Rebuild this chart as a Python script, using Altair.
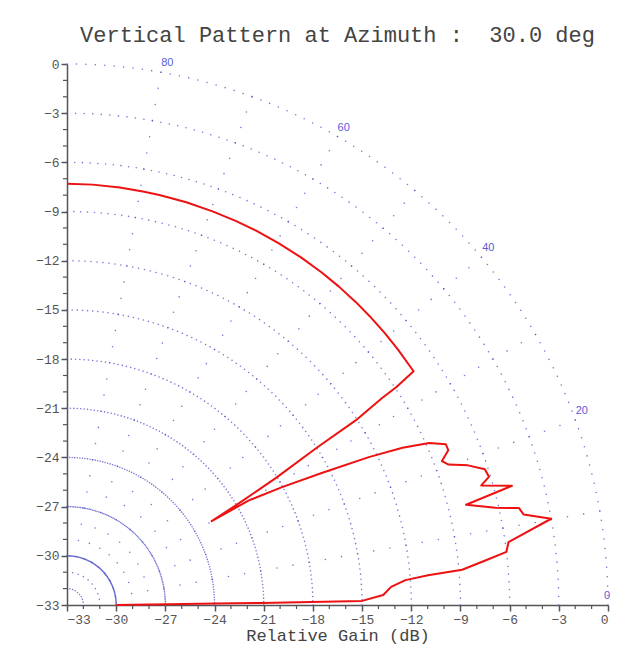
import altair as alt
import pandas as pd

# ---------------- data ----------------
TITLE = "Vertical Pattern at Azimuth :\u00a0 30.0 deg"
X_TITLE = "Relative Gain (dB)"
FLOOR = -33
MAJOR_TICKS = [-33, -30, -27, -24, -21, -18, -15, -12, -9, -6, -3, 0]
MINOR_TICKS = [v for v in range(-33, 1) if v % 3 != 0]
RING_GAINS = [-30, -27, -24, -21, -18, -15, -12, -9, -6, -3, 0]
RADIAL_ANGLES = [10, 20, 30, 40, 50, 60, 70, 80]
ANGLE_LABELS = ["0", "20", "40", "60", "80"]
ANGLE_LABEL_ELEV = [1.0, 20.6, 40.3, 59.9, 79.5]
ANGLE_LABEL_GAIN = [-0.05, 0.55, 0.7, 0.65, 0.6]

# elevation pattern (elevation angle in degrees, relative gain in dB)
elev_deg = [90.0, 86.5, 82.8, 79.6, 77.3, 73.5, 69.7, 66.3, 63.2, 59.7, 56.0, 52.6,
            49.5, 46.4, 43.7, 40.5, 37.6, 34.0,
            33.5, 33.3, 32.6, 32.2, 31.3, 30.6, 30.1,
            29.9, 28.7, 27.4, 26.1, 25.1, 24.1, 23.0, 22.1, 21.0, 20.2, 19.2, 18.0,
            16.9, 16.1, 15.0,
            14.1, 12.8, 12.1, 11.2, 10.1, 8.1, 6.9, 6.1, 5.1, 4.7, 4.2, 3.2, 1.8,
            0.8, 0.7, 0.6, 0.6, 0.4, 0.0]
gain_db = [-7.30, -7.31, -7.33, -7.35, -7.36, -7.38, -7.40, -7.41, -7.42, -7.43, -7.44, -7.45,
           -7.46, -7.47, -7.48, -7.49, -7.50, -7.50,
           -8.9, -10.0, -12.1, -15.0, -18.1, -20.8, -22.8,
           -20.2, -18.0, -15.5, -12.5, -10.4, -8.8, -7.9, -7.9, -8.5, -8.2, -7.1, -6.2,
           -6.1, -6.7, -4.9,
           -7.9, -6.2, -4.8, -4.6, -3.0, -5.8, -6.0, -7.3, -8.8, -10.9, -12.3, -13.2, -13.7,
           -15.0, -18.1, -21.1, -23.9, -26.9, -30.0]

# ---------------- tables ----------------
W = 541
H = 541
pattern = pd.DataFrame({"i": list(range(len(elev_deg))), "elev": elev_deg, "gain": gain_db})
rings = pd.DataFrame([{"elev": a, "gain": g} for g in RING_GAINS for a in range(0, 91)])
radial = pd.DataFrame([{"elev": a, "gain": FLOOR + r} for a in RADIAL_ANGLES for r in range(1, 34)])
labels = pd.DataFrame({"elev": ANGLE_LABEL_ELEV, "gain": ANGLE_LABEL_GAIN, "text": ANGLE_LABELS})
minor = pd.DataFrame({"px": MINOR_TICKS, "py": MINOR_TICKS})

x_scale = alt.Scale(domain=[-33, 0], nice=False, zero=False)
y_scale = alt.Scale(domain=[-33, 0], nice=False, zero=False)

XCALC = "-33 + (datum.gain + 33) * cos(datum.elev * PI / 180)"
YCALC = "-33 + (datum.gain + 33) * sin(datum.elev * PI / 180)"

AX = dict(
    values=MAJOR_TICKS, grid=False, format="d",
    labelFont="Liberation Mono", labelFontSize=13, labelColor="#555",
    tickSize=6, tickColor="#555", tickWidth=1.5,
    domainColor="#555", domainWidth=1.5, labelPadding=2,
)
X_AXIS = alt.Axis(title=X_TITLE, titleFont="Liberation Mono", titleFontSize=17,
                  titleFontWeight="normal", titleColor="#444", titlePadding=1, **AX)
Y_AXIS = alt.Axis(title=None, **AX)

X_ENC = alt.X("px:Q", scale=x_scale, axis=X_AXIS)
Y_ENC = alt.Y("py:Q", scale=y_scale, axis=Y_AXIS)

grid_color = "#5555cc"

ring_layer = alt.Chart(rings).transform_calculate(px=XCALC, py=YCALC).mark_circle(
    size=2.5, color=grid_color, opacity=0.8
).encode(x=X_ENC, y=Y_ENC)

radial_layer = alt.Chart(radial).transform_calculate(px=XCALC, py=YCALC).mark_circle(
    size=2.5, color=grid_color, opacity=0.8
).encode(x=X_ENC, y=Y_ENC)

label_layer = alt.Chart(labels).transform_calculate(px=XCALC, py=YCALC).mark_text(
    font="Liberation Sans", fontSize=11, color="#5a5ad6", align="center", baseline="middle"
).encode(x=X_ENC, y=Y_ENC, text="text:N")

pattern_layer = alt.Chart(pattern).transform_calculate(px=XCALC, py=YCALC).mark_line(
    color="#ee1111", strokeWidth=2, strokeJoin="round"
).encode(x=X_ENC, y=Y_ENC, order="i:Q")

x_minor = alt.Chart(minor).mark_rule(color="#555", strokeWidth=1.2).encode(
    x=X_ENC,
    y=alt.value(H),
    y2=alt.value(H + 4),
)
y_minor = alt.Chart(minor).mark_rule(color="#555", strokeWidth=1.2).encode(
    y=Y_ENC,
    x=alt.value(0),
    x2=alt.value(-4),
)

chart = alt.layer(
    ring_layer, radial_layer, label_layer, pattern_layer, x_minor, y_minor
).properties(
    width=W, height=H,
    title=alt.TitleParams(text=TITLE, font="Liberation Mono", fontSize=22,
                          fontWeight="normal", color="#444", anchor="middle", offset=10),
    autosize=alt.AutoSizeParams(type="none"),
    padding={"left": 59, "top": 56, "right": 4, "bottom": 40},
).configure(background="white").configure_view(stroke=None)

chart.save("out.html", embed_options={"renderer": "svg", "actions": False})
